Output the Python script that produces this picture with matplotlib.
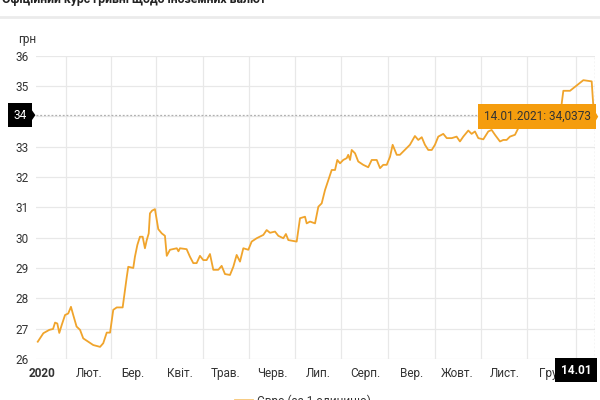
import matplotlib
matplotlib.use("Agg")
import matplotlib.pyplot as plt
import matplotlib.transforms as mtransforms
from matplotlib.patches import Polygon

plt.rcParams['font.family'] = ['Roboto', 'DejaVu Sans']

# days since 01.01.2020 (axis position) and EUR rate, UAH per 1 EUR
day = [-2.8, 0.9, 4.8, 7.3, 8.6, 10.1, 11.4, 13.0, 15.2, 17.3, 19.1, 20.6, 22.8, 25.1,
       27.2, 30.5, 33.8, 38.3, 40.4, 42.7, 44.9, 47.0, 49.3, 53.2, 55.9, 56.9, 60.2,
       61.3, 62.9, 64.6, 66.4, 67.9, 69.1, 70.4, 71.2, 72.6, 74.5, 76.7, 79.0, 81.1,
       82.3, 84.4, 88.9, 90.0, 91.0, 95.4, 97.6, 99.8, 102.0, 104.2, 106.4, 108.6,
       110.8, 113.0, 116.3, 118.5, 120.7, 124.0, 126.2, 128.4, 130.6, 132.8, 136.1,
       138.3, 141.6, 146.0, 148.2, 150.4, 153.7, 155.9, 159.2, 160.9, 162.5, 168.0,
       170.2, 173.5, 174.6, 176.8, 180.1, 182.3, 184.5, 186.7, 188.9, 191.1, 193.3,
       194.8, 196.6, 198.7, 201.0, 202.0, 203.2, 204.3, 206.5, 208.6, 211.9, 215.2,
       217.5, 220.8, 223.0, 225.1, 227.4, 229.6, 231.3, 234.0, 236.1, 238.3, 240.6,
       242.7, 246.0, 248.2, 250.5, 252.6, 254.8, 257.1, 259.2, 261.4, 264.7, 267.0,
       270.3, 273.5, 275.7, 277.9, 281.2, 283.4, 285.6, 287.8, 291.1, 294.4, 296.6,
       298.8, 302.1, 304.3, 306.5, 308.7, 312.0, 314.2, 316.4, 319.7, 321.9, 329.6,
       332.9, 337.1, 341.7, 343.9, 348.3, 351.6, 353.8, 357.1, 362.6, 363.7, 364.8]
rate = [26.57, 26.85, 26.96, 26.99, 27.20, 27.17, 26.86, 27.12, 27.45, 27.50, 27.72,
        27.45, 27.07, 26.96, 26.68, 26.57, 26.46, 26.40, 26.52, 26.87, 26.87, 27.62,
        27.70, 27.70, 28.70, 29.04, 29.00, 29.37, 29.76, 30.03, 30.03, 29.65, 29.92,
        30.14, 30.80, 30.89, 30.94, 30.28, 30.14, 30.06, 29.40, 29.60, 29.65, 29.55,
        29.65, 29.62, 29.37, 29.16, 29.16, 29.40, 29.26, 29.26, 29.46, 28.94, 28.94,
        29.07, 28.80, 28.77, 29.04, 29.43, 29.21, 29.65, 29.60, 29.87, 29.98, 30.09,
        30.25, 30.16, 30.20, 30.06, 29.98, 30.12, 29.92, 29.87, 30.64, 30.69, 30.47,
        30.53, 30.47, 31.02, 31.13, 31.57, 31.90, 32.23, 32.23, 32.56, 32.45, 32.56,
        32.62, 32.73, 32.56, 32.89, 32.78, 32.51, 32.40, 32.32, 32.56, 32.56, 32.29,
        32.40, 32.40, 32.67, 33.06, 32.73, 32.73, 32.84, 32.95, 33.06, 33.35, 33.22,
        33.31, 33.06, 32.89, 32.89, 33.06, 33.33, 33.42, 33.28, 33.28, 33.33, 33.17,
        33.33, 33.53, 33.42, 33.50, 33.28, 33.24, 33.50, 33.55, 33.39, 33.17, 33.22,
        33.22, 33.33, 33.39, 33.61, 33.99, 34.21, 34.37, 34.32, 34.15, 34.05, 33.99,
        34.84, 34.84, 34.97, 35.06, 35.19, 35.15, 34.32, 34.04]

month_pos = [0, 31, 60, 91, 121, 152, 182, 213, 244, 274, 305, 335]
month_labels = ['2020', 'Лют.', 'Бер.', 'Квіт.', 'Трав.', 'Черв.', 'Лип.', 'Серп.',
                'Вер.', 'Жовт.', 'Лист.', 'Гру.']
grid_pos = [15.5, 45.5, 75.5, 106, 136.5, 167, 197.5, 228.5, 259, 289.5, 320, 352]
y_ticks = [26, 27, 28, 29, 30, 31, 32, 33, 34, 35, 36]

last_value = 34.0373
last_label = '14.01.2021: 34,0373'
series_name = 'Євро (за 1 одиницю)'

line_col = '#f0a42c'
txt_col = '#333333'

fig = plt.figure(figsize=(6, 4), dpi=100)
ax = fig.add_axes([0.06, 0.1025, 0.9317, 0.7585])

ax.plot(day, rate, color=line_col, lw=1.3, zorder=3)
ax.set_xlim(-3.96, 364.8)
ax.set_ylim(26, 36)

ax.set_yticks(y_ticks)
ax.set_yticklabels([str(v) if v != 34 else '' for v in y_ticks])
ax.set_xticks(month_pos)
ax.set_xticklabels(month_labels)
ax.set_xticks(grid_pos, minor=True)
ax.tick_params(axis='both', which='both', length=0, labelsize=8.5, labelcolor=txt_col)
ax.tick_params(axis='y', pad=5)
ax.tick_params(axis='x', pad=6)
ax.get_xticklabels()[0].set_fontweight('bold')
ax.grid(axis='y', color='#e8e8e8', lw=0.9)
ax.grid(axis='x', which='minor', color='#e8e8e8', lw=0.9)
for s in ax.spines.values():
    s.set_visible(False)

# crosshair
ax.axhline(last_value, color='#b0b0b0', lw=0.9, ls=(0, (1.5, 1.5)), zorder=2)
ax.axvline(day[-1], color='#b0b0b0', lw=0.9, ls=(0, (1.5, 1.5)), zorder=2)

# y marker "34"
ty = mtransforms.blended_transform_factory(fig.transFigure, ax.transData)
ax.text(0.034, last_value, '34', transform=ty, ha='center', va='center', color='white',
        fontsize=8.5, zorder=6, clip_on=False,
        bbox=dict(boxstyle='square,pad=0.45', fc='black', ec='none'))
ax.add_patch(Polygon([(0.053, last_value + 0.17), (0.053, last_value - 0.17),
                      (0.059, last_value)], closed=True, transform=ty, fc='black',
                     ec='none', clip_on=False, zorder=6))

# tooltip
ax.text(0.895, last_value - 0.05, last_label, transform=ty, ha='center', va='center',
        color=txt_col, fontsize=8.5, zorder=7, clip_on=False,
        bbox=dict(boxstyle='square,pad=0.5', fc='#f59d0e', ec='none'))
ax.add_patch(Polygon([(0.991, last_value + 0.15), (0.991, last_value - 0.25),
                      (0.997, last_value - 0.05)], closed=True, transform=ty,
                     fc='#f59d0e', ec='none', clip_on=False, zorder=7))

# x marker "14.01"
fig.text(0.96, 0.075, '14.01', ha='center', va='center', color='white',
         fontsize=8.5, fontweight='bold', zorder=6,
         bbox=dict(boxstyle='square,pad=0.45', fc='black', ec='none'))

# header (cut at top, as in the page screenshot)
fig.text(0.004, 1.0, 'Офіційний курс гривні щодо іноземних валют', ha='left',
         va='center', fontsize=8.8, fontweight='bold', color='#222222')
fig.add_artist(plt.Line2D([0, 1], [0.957, 0.957], transform=fig.transFigure,
                          color='#ebebeb', lw=2))
fig.text(0.03, 0.9, 'грн', ha='left', va='center', fontsize=8.5, color=txt_col)

# legend (cut at bottom)
fig.add_artist(plt.Line2D([0.392, 0.42], [0.0, 0.0], transform=fig.transFigure,
                          color='#f7c675', lw=2))
fig.text(0.428, -0.004, series_name, ha='left', va='center', fontsize=8.5, color=txt_col)

fig.savefig('out.png', dpi=100)
